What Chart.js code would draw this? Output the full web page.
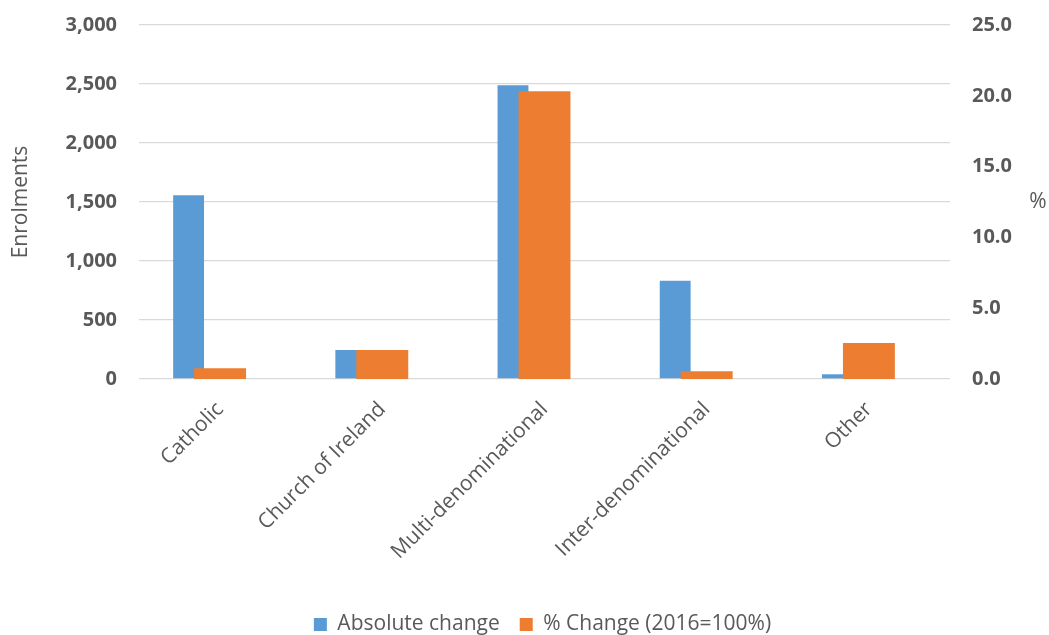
<!DOCTYPE html>
<html>
<head>
<meta charset="utf-8">
<script src="https://cdn.jsdelivr.net/npm/chart.js@4.4.1/dist/chart.umd.min.js"></script>
<style>
  html, body { margin: 0; padding: 0; background: #fff; }
  #wrap { width: 1049px; height: 635px; }
</style>
</head>
<body>
<div id="wrap"><canvas id="bar-chart"></canvas></div>
<script>
const categories = ["Catholic", "Church of Ireland", "Multi-denominational", "Inter-denominational", "Other"];
const absoluteChange = [1558, 246, 2490, 833, 40];
const pctChange = [0.76, 2.05, 20.33, 0.55, 2.55];
const leftTicks = [0, 500, 1000, 1500, 2000, 2500, 3000];
const rightTicks = [0, 5, 10, 15, 20, 25];

const grey = "#595959";
Chart.defaults.font.family = "'Open Sans'";
Chart.defaults.color = grey;

// "%" title beside the right axis (kept horizontal) and a small legend nudge
const extras = {
  id: "extras",
  afterLayout(chart) {
    chart.legend.left += 18;
    chart.legend.right += 18;
  },
  afterDraw(chart) {
    const s = chart.scales.y2;
    const ctx = chart.ctx;
    ctx.save();
    ctx.font = "21px 'Open Sans'";
    ctx.fillStyle = grey;
    ctx.textAlign = "center";
    ctx.textBaseline = "middle";
    ctx.fillText("%", s.right - 11, (s.top + s.bottom) / 2);
    ctx.restore();
  }
};

const noPad = (axis) => { axis.paddingTop = 0; axis.paddingBottom = 0; };

new Chart(document.getElementById("bar-chart"), {
  type: "bar",
  data: {
    labels: categories,
    datasets: [{
        label: "Absolute change",
        data: absoluteChange,
        backgroundColor: "#5B9BD5",
        yAxisID: "y",
        order: 1,
        categoryPercentage: 0.777,
        barPercentage: 0.49
      }, {
        label: "% Change (2016=100%)",
        data: pctChange,
        backgroundColor: "#ED7D31",
        yAxisID: "y2",
        order: 0,
        grouped: false,
        categoryPercentage: 1,
        barPercentage: 0.32
      }, {
        // empty placeholder that pushes the blue bars left of centre
        label: "",
        data: [],
        yAxisID: "y",
        order: 2
      }
    ]
  },
  options: {
    responsive: true,
    maintainAspectRatio: false,
    animation: false,
    layout: { padding: { top: 25, right: 0, left: 0, bottom: -10 } },
    plugins: {
      tooltip: { enabled: false },
      legend: {
        position: "bottom",
        labels: {
          boxWidth: 13,
          boxHeight: 13,
          padding: 20,
          font: { size: 21 },
          color: grey,
          filter: (item) => item.text !== "",
          sort: (a, b) => a.datasetIndex - b.datasetIndex
        }
      }
    },
    scales: {
      x: {
        grid: { display: false },
        border: { display: false },
        ticks: { minRotation: 45, maxRotation: 45, font: { size: 21 }, color: grey, padding: 10 },
        afterFit: (axis) => { axis.height = 215; }
      },
      y: {
        position: "left",
        min: 0,
        max: 3000,
        afterBuildTicks: (axis) => { axis.ticks = leftTicks.map(v => ({ value: v })); },
        afterFit: (axis) => { axis.width = 139; noPad(axis); },
        grid: { color: "#D9D9D9", lineWidth: 1.3, drawTicks: false },
        border: { display: false },
        ticks: {
          padding: 22,
          font: { size: 20, weight: "bold" },
          color: grey,
          callback: (v) => v.toLocaleString("en-US")
        },
        title: { display: true, text: "Enrolments", font: { size: 21 }, color: grey, padding: { top: 8, bottom: 4 } }
      },
      y2: {
        position: "right",
        min: 0,
        max: 25,
        afterBuildTicks: (axis) => { axis.ticks = rightTicks.map(v => ({ value: v })); },
        afterFit: (axis) => { axis.width = 99; noPad(axis); },
        grid: { display: false, drawTicks: false },
        border: { display: false },
        ticks: {
          padding: 22,
          font: { size: 20, weight: "bold" },
          color: grey,
          callback: (v) => v.toFixed(1)
        }
      }
    }
  },
  plugins: [extras]
});
</script>
</body>
</html>
